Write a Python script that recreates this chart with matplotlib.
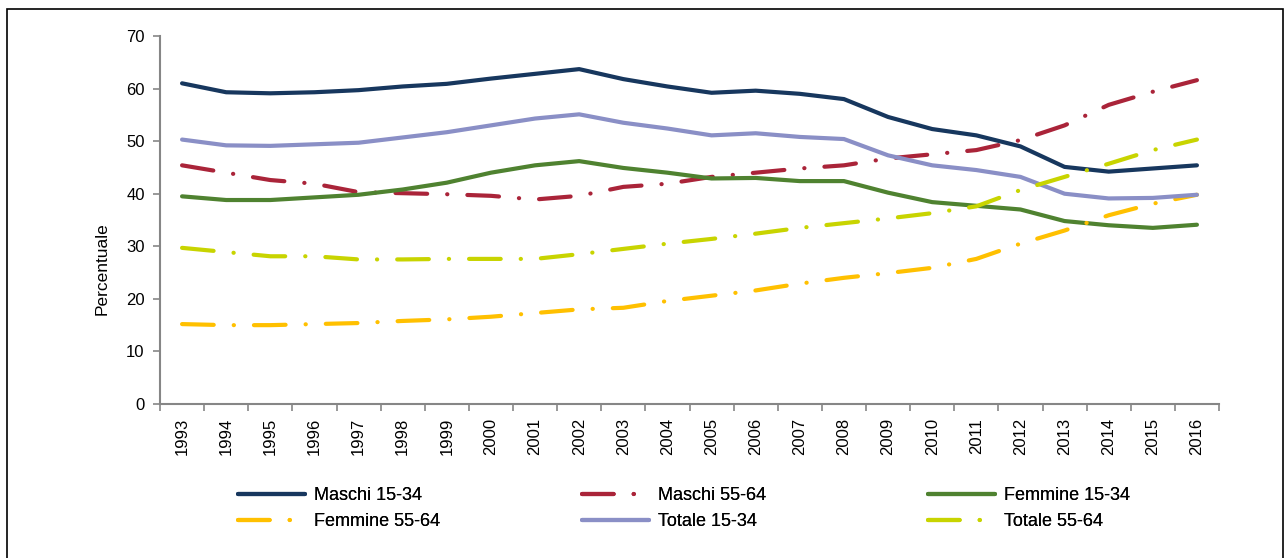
import numpy as np
import matplotlib.pyplot as plt
from matplotlib.patches import Rectangle

plt.rcParams['font.family'] = ['Liberation Sans', 'DejaVu Sans']

anni = list(range(1993, 2017))

maschi_15_34 = [61.0, 59.3, 59.1, 59.3, 59.7, 60.4, 60.9, 61.9, 62.8, 63.7, 61.8, 60.4,
                59.2, 59.6, 59.0, 58.0, 54.6, 52.3, 51.1, 49.0, 45.1, 44.2, 44.8, 45.4]
maschi_55_64 = [45.4, 44.0, 42.6, 41.9, 40.3, 40.1, 39.9, 39.6, 38.9, 39.6, 41.3, 41.9,
                43.2, 44.0, 44.8, 45.4, 46.7, 47.5, 48.3, 50.2, 53.0, 56.9, 59.4, 61.6]
femmine_15_34 = [39.5, 38.8, 38.8, 39.3, 39.8, 40.8, 42.1, 44.0, 45.4, 46.2, 44.9, 44.0,
                 42.9, 43.0, 42.4, 42.4, 40.2, 38.4, 37.7, 37.0, 34.8, 34.0, 33.5, 34.1]
femmine_55_64 = [15.2, 15.0, 15.0, 15.2, 15.4, 15.8, 16.1, 16.6, 17.3, 18.0, 18.3, 19.6,
                 20.6, 21.6, 22.9, 24.0, 24.9, 25.9, 27.6, 30.5, 33.0, 35.9, 38.1, 39.8]
totale_15_34 = [50.3, 49.2, 49.1, 49.4, 49.7, 50.7, 51.7, 53.0, 54.3, 55.1, 53.5, 52.4,
                51.1, 51.5, 50.8, 50.4, 47.3, 45.4, 44.5, 43.2, 40.0, 39.1, 39.2, 39.8]
totale_55_64 = [29.7, 28.9, 28.1, 28.1, 27.5, 27.5, 27.6, 27.6, 27.6, 28.5, 29.5, 30.5,
                31.4, 32.4, 33.5, 34.4, 35.3, 36.3, 37.6, 40.7, 43.2, 45.7, 48.3, 50.3]

serie = [
    ("Maschi 15-34", maschi_15_34, "#17375E", "solid"),
    ("Maschi 55-64", maschi_55_64, "#AA2439", "dashdot"),
    ("Femmine 15-34", femmine_15_34, "#4F8230", "solid"),
    ("Femmine 55-64", femmine_55_64, "#FFC000", "dashdot"),
    ("Totale 15-34", totale_15_34, "#8A8FC6", "solid"),
    ("Totale 55-64", totale_55_64, "#C8D400", "dashdot"),
]

fig = plt.figure(figsize=(12.85, 5.58), dpi=100)
ax = fig.add_axes([160 / 1285, 1 - 404 / 558, (1219 - 160) / 1285, (404 - 36) / 558])

x = np.arange(len(anni))
handles = {}
for nome, valori, colore, stile in serie:
    (ln,) = ax.plot(x, valori, color=colore, lw=3, solid_capstyle="round",
                    dash_capstyle="round", solid_joinstyle="round", label=nome)
    if stile == "dashdot":
        ln.set_dashes((7.6, 4.8, 0.05, 4.8))
    handles[nome] = ln

ax.set_xlim(-0.5, len(anni) - 0.5)
ax.set_ylim(0, 70)
ax.set_yticks(range(0, 71, 10))
ax.set_xticks(x)
ax.set_xticklabels([str(a) for a in anni], rotation=90)
ax.set_xticks(np.arange(-0.5, len(anni), 1), minor=True)
ax.tick_params(axis="x", which="major", length=0, pad=10, labelsize=12)
ax.tick_params(axis="x", which="minor", length=5, color="#868686", width=1.2)
ax.tick_params(axis="y", length=5, color="#868686", width=1.2, labelsize=12, pad=6)
for s in ["top", "right"]:
    ax.spines[s].set_visible(False)
for s in ["left", "bottom"]:
    ax.spines[s].set_color("#868686")
    ax.spines[s].set_linewidth(1.5)
ax.set_ylabel("Percentuale", fontsize=12.5)
ax.yaxis.set_label_coords(-0.048, 0.367)

# legenda su tre colonne
colonne = [
    (["Maschi 15-34", "Femmine 55-64"], 238),
    (["Maschi 55-64", "Totale 15-34"], 582),
    (["Femmine 15-34", "Totale 55-64"], 928),
]
for nomi, xpix in colonne:
    leg = fig.legend([handles[n] for n in nomi], nomi, loc="upper left",
                     bbox_to_anchor=(xpix / 1285, 1 - 487 / 558), frameon=False,
                     fontsize=13, handlelength=3.7, handletextpad=0.5,
                     labelspacing=0.5, borderpad=0, borderaxespad=0)
    fig.add_artist(leg)

fig.patches.append(Rectangle((7 / 1285, -0.05), (1283 - 7) / 1285, 1.05 - 9 / 558,
                             transform=fig.transFigure, fill=False,
                             edgecolor="black", linewidth=1.2))

fig.savefig("out.png", dpi=100)
